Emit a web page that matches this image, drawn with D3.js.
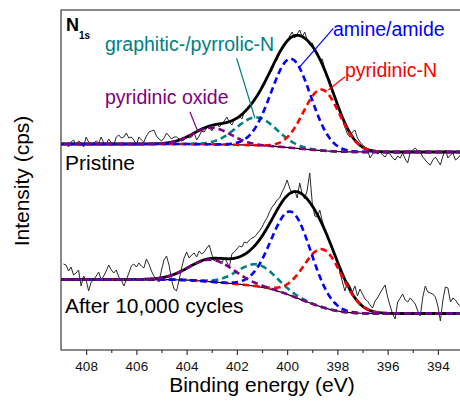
<!DOCTYPE html>
<html>
<head>
<meta charset="utf-8">
<script src="https://cdn.jsdelivr.net/npm/d3@7"></script>
<style>
  body { margin: 0; background: #fff; }
  svg { display: block; font-family: "Liberation Sans", Arial, sans-serif; }
</style>
</head>
<body>
<div id="chart"></div>
<script>
// N 1s spectra (pristine / after cycling), four fitted components on a Shirley background
const eStart = 408.9, eStep = 0.1;   // acquisition grid, binding energy in eV

const pristineCounts = [
  2070, 2060, 2030, 2080, 2100, 2050, 2090, 2070, 2030, 2130,
  2080, 2050, 2070, 2090, 2070, 2130, 2070, 2060, 2110, 2070,
  2050, 2130, 2150, 2120, 2130, 2170, 2120, 2130, 2100, 2050,
  2130, 2100, 2080, 2140, 2180, 2190, 2200, 2140, 2110, 2090,
  2120, 2170, 2140, 2110, 2130, 2130, 2110, 2090, 2100, 2140,
  2120, 2130, 2170, 2100, 2140, 2190, 2180, 2220, 2240, 2190,
  2240, 2270, 2230, 2260, 2290, 2330, 2280, 2250, 2300, 2320,
  2340, 2310, 2380, 2400, 2430, 2460, 2490, 2540, 2590, 2630,
  2660, 2720, 2760, 2800, 2880, 2900, 2970, 3000, 3040, 3080,
  3140, 3180, 3120, 3160, 3200, 3130, 3180, 3100, 3050, 3070,
  3000, 2970, 2900, 2910, 2810, 2740, 2700, 2570, 2540, 2460,
  2380, 2320, 2230, 2160, 2130, 2180, 2200, 2120, 2080, 2050,
  2030, 2000, 1920, 1960, 2000, 1960, 1980, 1950, 1930, 1970,
  1960, 1920, 1900, 1940, 1920, 1970, 1910, 1870, 1980, 2000,
  2020, 1990, 1980, 1930, 1900, 1870, 1850, 1900, 1930, 1890,
  1850, 1940, 2000, 1920, 1950, 1970, 1900, 1920, 1950
];

const cycledCounts = [
  860, 850, 790, 830, 750, 770, 800, 640, 740, 700,
  590, 680, 700, 740, 780, 700, 740, 790, 850, 800,
  770, 800, 730, 700, 640, 700, 770, 840, 860, 830,
  870, 840, 820, 910, 860, 790, 740, 700, 680, 800,
  900, 940, 850, 700, 610, 590, 700, 820, 920, 980,
  920, 950, 970, 930, 990, 960, 980, 1020, 1050, 960,
  890, 920, 880, 860, 930, 880, 830, 960, 980, 1010,
  1040, 1030, 1080, 1070, 1100, 1120, 1130, 1160, 1190, 1230,
  1280, 1320, 1380, 1430, 1460, 1500, 1520, 1580, 1630, 1700,
  1620, 1560, 1600, 1520, 1670, 1560, 1510, 1600, 1770, 1470,
  1340, 1330, 1400, 1290, 1210, 1140, 1080, 1010, 960, 900,
  780, 680, 590, 680, 640, 580, 640, 540, 610, 560,
  510, 490, 450, 420, 490, 520, 570, 610, 650, 530,
  440, 360, 310, 480, 520, 560, 500, 480, 520, 490,
  460, 390, 340, 530, 640, 580, 570, 560, 530, 440,
  290, 500, 630, 620, 480, 520, 500, 460, 440
];

const components = ["pyridinic oxide", "graphitic-/pyrrolic-N", "amine/amide", "pyridinic-N"];
const componentColors = ["#800080", "#008080", "#0000ff", "#ff0000"];

// fit results: centre (eV), height (cps), FWHM (eV); background at high / low BE end
const pristineCentres = [403.0, 401.22, 399.85, 398.63];
const pristineHeights = [165, 280, 890, 610];
const pristineFwhm = [1.8, 1.9, 1.85, 1.7];
const pristineBg = [2060, 1980];

const cycledCentres = [403.0, 401.2, 399.83, 398.57];
const cycledHeights = [220, 220, 840, 580];
const cycledFwhm = [2.1, 1.8, 1.85, 1.8];
const cycledBg = [705, 365];

const xTicks = [408, 406, 404, 402, 400, 398, 396, 394];
const xMinorTicks = [407, 405, 403, 401, 399, 397, 395];

const W = 460, H = 409;
const x = d3.scaleLinear().domain([409, 393]).range([61, 463]);
const y = d3.scaleLinear().domain([0, 3400]).range([350, 10]);

const svg = d3.select("#chart").append("svg")
  .attr("width", W).attr("height", H);

svg.append("defs").append("clipPath").attr("id", "plot")
  .append("rect").attr("x", 61).attr("y", 10).attr("width", 402).attr("height", 340);

const line = d3.line().x(d => x(d[0])).y(d => y(d[1]));

function gauss(e, c, h, f) {
  return h * Math.exp(-4 * Math.LN2 * (e - c) * (e - c) / (f * f));
}

// evaluate the fit model on a fine grid; Shirley step follows the integrated peak area
function fitModel(centres, heights, fwhm, bg) {
  const grid = d3.range(393, 409.0001, 0.02);
  const peaks = grid.map(e => centres.map((c, k) => gauss(e, c, heights[k], fwhm[k])));
  const sums = peaks.map(p => d3.sum(p));
  const cum = d3.cumsum(sums);
  const total = cum[cum.length - 1];
  const base = cum.map(a => bg[1] + (bg[0] - bg[1]) * a / total);
  return {
    base: grid.map((e, i) => [e, base[i]]),
    envelope: grid.map((e, i) => [e, base[i] + sums[i]]),
    comps: centres.map((c, k) => grid.map((e, i) => [e, base[i] + peaks[i][k]]))
  };
}

const plot = svg.append("g").attr("clip-path", "url(#plot)");

function drawSpectrum(counts, model) {
  const raw = counts.map((v, i) => [eStart - i * eStep, v]);
  plot.append("path").datum(raw).attr("d", line)
    .attr("fill", "none").attr("stroke", "#2a2a2a").attr("stroke-width", 1);
  plot.append("path").datum(model.base).attr("d", line)
    .attr("fill", "none").attr("stroke", "#000").attr("stroke-width", 1.2);
  plot.append("path").datum(model.envelope).attr("d", line)
    .attr("fill", "none").attr("stroke", "#000").attr("stroke-width", 2.8);
  // draw order: teal, red, blue, purple on top
  [1, 3, 2, 0].forEach(k => {
    plot.append("path").datum(model.comps[k]).attr("d", line)
      .attr("fill", "none").attr("stroke", componentColors[k])
      .attr("stroke-width", 2.6).attr("stroke-dasharray", "6.5,4");
  });
}

drawSpectrum(pristineCounts, fitModel(pristineCentres, pristineHeights, pristineFwhm, pristineBg));
drawSpectrum(cycledCounts, fitModel(cycledCentres, cycledHeights, cycledFwhm, cycledBg));

// frame
svg.append("rect").attr("x", 61).attr("y", 10).attr("width", 402).attr("height", 340)
  .attr("fill", "none").attr("stroke", "#3a3a3a").attr("stroke-width", 1.2);

const xAxis = svg.append("g").attr("transform", "translate(0,350)")
  .call(d3.axisBottom(x).tickValues(xTicks).tickSize(5).tickPadding(6).tickFormat(d3.format("d")));
svg.append("g").attr("transform", "translate(0,350)")
  .call(d3.axisBottom(x).tickValues(xMinorTicks).tickSize(3).tickFormat(""));
svg.selectAll(".domain").remove();
svg.selectAll(".tick line").attr("stroke", "#3a3a3a").attr("stroke-width", 1.2);
xAxis.selectAll("text").attr("font-size", 13.5).attr("fill", "#111")
  .attr("font-family", "'Liberation Sans', Arial, sans-serif");

svg.append("text").attr("x", 262).attr("y", 392).attr("text-anchor", "middle")
  .attr("font-size", 21).text("Binding energy (eV)");
svg.append("text").attr("transform", "translate(29,181) rotate(-90)").attr("text-anchor", "middle")
  .attr("font-size", 21).text("Intensity (cps)");

// core level label
const n1s = svg.append("text").attr("x", 66).attr("y", 31).attr("font-weight", "bold").attr("font-size", 18);
n1s.append("tspan").text("N");
n1s.append("tspan").attr("font-size", 10).attr("dy", 8).text("1s");

svg.append("text").attr("x", 65).attr("y", 170).attr("font-size", 21).text("Pristine");
svg.append("text").attr("x", 65).attr("y", 313).attr("font-size", 21).text("After 10,000 cycles");

// component labels with leader lines (label anchor in px, leader in eV / cps)
const labelPos = [[105, 104], [105, 50.5], [333, 36], [345, 76.5]];
const leaders = [
  [[403.87, 2383], [403.55, 2183]],
  [[402.01, 2917], [401.28, 2317]],
  [[398.16, 3217], [399.49, 2833]],
  [[397.70, 2733], [398.36, 2600]]
];
components.forEach((name, k) => {
  svg.append("text").attr("x", labelPos[k][0]).attr("y", labelPos[k][1])
    .attr("font-size", 19.5).attr("fill", componentColors[k]).text(name);
  svg.append("path").datum(leaders[k]).attr("d", line)
    .attr("stroke", componentColors[k]).attr("stroke-width", 1.2).attr("fill", "none");
});
</script>
</body>
</html>
